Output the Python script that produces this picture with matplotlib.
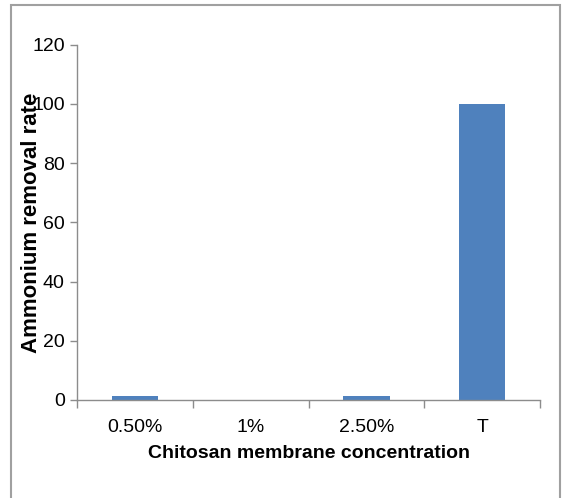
import matplotlib.pyplot as plt
from matplotlib.patches import Rectangle

# Daten
kategorien = ["0.50%", "1%", "2.50%", "T"]
entfernungsrate = [1.2, 0.0, 1.2, 100.0]
y_ticks = [0, 20, 40, 60, 80, 100, 120]

fig = plt.figure(figsize=(5.63, 4.98), dpi=100)
ax = fig.add_axes([0.137, 0.197, 0.822, 0.713])

# grauer Rahmen um die ganze Grafik
fig.patches.append(Rectangle((0.02, -0.01), 0.975, 1.0, transform=fig.transFigure,
                             fill=False, edgecolor="#a0a0a0", linewidth=1.5))

x = range(len(kategorien))
ax.bar(x, entfernungsrate, width=0.4, color="#4f81bd")

grau = "#8c8c8c"
ax.set_xlim(-0.5, 3.5)
ax.set_ylim(0, 120)
ax.set_yticks(y_ticks)
ax.set_xticks(list(x))
ax.set_xticklabels(kategorien)
ax.set_xticks([-0.5, 0.5, 1.5, 2.5, 3.5], minor=True)
ax.tick_params(axis="x", which="major", length=0, pad=14)
ax.tick_params(axis="x", which="minor", length=6, color=grau, width=1)
ax.tick_params(axis="y", length=5, color=grau, width=1, pad=4)
for lbl in ax.get_xticklabels() + ax.get_yticklabels():
    lbl.set_fontfamily("Liberation Sans")
    lbl.set_fontsize(14)

for s in ["top", "right"]:
    ax.spines[s].set_visible(False)
for s in ["left", "bottom"]:
    ax.spines[s].set_color(grau)
    ax.spines[s].set_linewidth(1)

ax.set_xlabel("Chitosan membrane concentration", fontfamily="Liberation Sans",
              fontsize=14, fontweight="bold", labelpad=6)
ax.set_ylabel("Ammonium removal rate", fontfamily="Liberation Sans",
              fontsize=16, fontweight="bold")
ax.yaxis.set_label_coords(-0.076, 0.5)

fig.savefig("out.png", dpi=100)
